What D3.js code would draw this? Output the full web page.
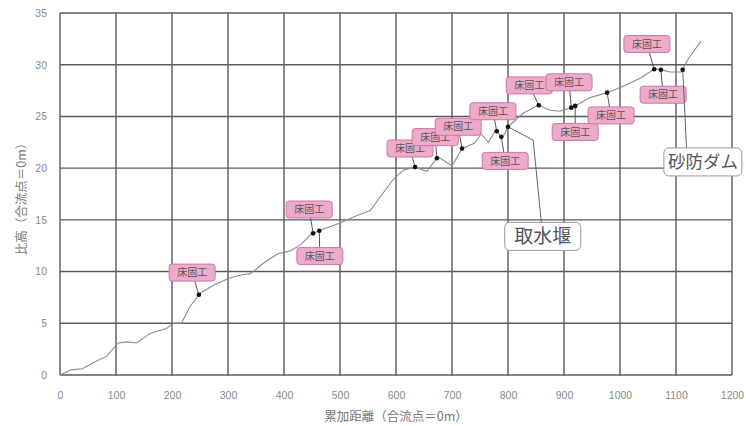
<!DOCTYPE html>
<html>
<head>
<meta charset="utf-8">
<script src="https://cdn.jsdelivr.net/npm/d3@7"></script>
<style>
  html, body { margin: 0; padding: 0; background: #fff; }
  svg { display: block; }
</style>
</head>
<body>
<svg id="chart" width="746" height="426"></svg>
<script>
// 縦断図：累加距離 (m) と 比高 (m)
const distance = [0, 20, 40, 60, 83, 104, 120, 137, 160, 190, 203, 217, 232, 250, 275, 304, 325, 340,
  363, 388, 411, 430, 448, 465, 500, 525, 554, 577, 595, 613, 634, 655, 675, 700, 718, 740, 752, 765,
  778, 790, 800, 827, 854, 875, 893, 916, 946, 977, 1005, 1036, 1062, 1075, 1089, 1110, 1121, 1145];
const elevation = [0, 0.5, 0.6, 1.2, 1.8, 3.1, 3.2, 3.1, 4.0, 4.5, 5.0, 5.0, 6.6, 7.9, 8.7, 9.4, 9.7, 9.8,
  10.8, 11.7, 12.0, 12.6, 13.6, 14.0, 14.7, 15.3, 15.9, 17.6, 18.9, 19.8, 20.1, 19.7, 21.1, 20.2, 21.9, 22.4, 23.3, 22.5,
  23.7, 22.9, 24.0, 25.3, 26.1, 25.6, 25.5, 25.9, 26.8, 27.3, 27.9, 28.7, 29.6, 29.5, 29.3, 29.3, 30.5, 32.3];

const xTicks = [0, 100, 200, 300, 400, 500, 600, 700, 800, 900, 1000, 1100, 1200];
const yTicks = [0, 5, 10, 15, 20, 25, 30, 35];

// 床固工：設置位置 (m) と ラベル位置 (距離, 比高)
const bedSillAt = [248, 452, 463, 634, 673, 718, 780, 788, 855, 913, 920, 977, 1061, 1073];
const bedSillLabelX = [236, 445, 464, 625, 670, 711, 773, 795, 838, 909, 920, 984, 1048, 1077];
const bedSillLabelY = [9.9, 16.0, 11.5, 21.9, 23.0, 24.0, 25.5, 20.7, 28.0, 28.3, 23.5, 25.1, 32.0, 27.1];
const bedSillName = "床固工";

// 主要構造物
const structName = ["取水堰", "砂防ダム"];
const structAt = [800, 1112];
const structLabelX = [862, 1148];
const structLabelY = [13.4, 20.6];

const xTitle = "累加距離（合流点＝0m）";
const yTitle = "比高（合流点＝0m）";

const svg = d3.select("#chart");
const x = d3.scaleLinear().domain([0, 1200]).range([60, 732]);
const y = d3.scaleLinear().domain([0, 35]).range([375, 13]);

const profile = distance.map((d, i) => [d, elevation[i]]);
const elevAt = d => {
  const i = d3.bisector(p => p[0]).right(profile, d);
  if (i <= 0) return profile[0][1];
  if (i >= profile.length) return profile[profile.length - 1][1];
  const a = profile[i - 1], b = profile[i];
  return a[1] + (b[1] - a[1]) * (d - a[0]) / (b[0] - a[0]);
};

// グリッド
const grid = svg.append("g");
grid.selectAll(".vx").data(xTicks).join("line")
  .attr("x1", d => x(d)).attr("x2", d => x(d))
  .attr("y1", y(0)).attr("y2", y(35))
  .attr("stroke", "#5a5a5a").attr("stroke-width", 1.4);
grid.selectAll(".hy").data(yTicks).join("line")
  .attr("x1", x(0)).attr("x2", x(1200))
  .attr("y1", d => y(d)).attr("y2", d => y(d))
  .attr("stroke", "#5a5a5a").attr("stroke-width", 1.4);

// 軸
const xAxis = svg.append("g").attr("transform", `translate(0,${y(0)})`)
  .call(d3.axisBottom(x).tickValues(xTicks).tickFormat(d3.format("d")).tickSize(0).tickPadding(17));
const yAxis = svg.append("g").attr("transform", `translate(${x(0)},0)`)
  .call(d3.axisLeft(y).tickValues(yTicks).tickFormat(d3.format("d")).tickSize(0).tickPadding(13));
[xAxis, yAxis].forEach(g => {
  g.select(".domain").remove();
  g.selectAll("text").attr("fill", "#8a8a8a")
    .style("font-family", "'Liberation Sans', sans-serif").style("font-size", "10.5px");
});

svg.append("text").text(xTitle)
  .attr("x", 396).attr("y", 421).attr("text-anchor", "middle")
  .attr("fill", "#777").style("font-family", "'Noto Sans CJK JP'").style("font-size", "12.5px");
svg.append("text").text(yTitle)
  .attr("transform", "translate(26,196) rotate(-90)").attr("text-anchor", "middle")
  .attr("fill", "#777").style("font-family", "'Noto Sans CJK JP'").style("font-size", "12.5px");

// 縦断線
svg.append("path").datum(profile)
  .attr("d", d3.line().x(d => x(d[0])).y(d => y(d[1])))
  .attr("fill", "none").attr("stroke", "#8c8c8c").attr("stroke-width", 1.1);

// 床固工の引出線・ラベル
const sills = bedSillAt.map((d, i) => ({ d, e: elevAt(d), lx: bedSillLabelX[i], ly: bedSillLabelY[i] }));
const sg = svg.append("g");
sg.selectAll("line").data(sills).join("line")
  .attr("x1", s => x(s.lx)).attr("y1", s => y(s.ly))
  .attr("x2", s => x(s.d)).attr("y2", s => y(s.e))
  .attr("stroke", "#444").attr("stroke-width", 0.9);

// 構造物の引出線（取水堰は折れ線）
const sp = [
  [[structLabelX[0], structLabelY[0]], [845, 22.7], [structAt[0], elevAt(structAt[0])]],
  [[structLabelX[1] - 28, structLabelY[1]], [structAt[1], elevAt(structAt[1])]]
];
svg.append("g").selectAll("path").data(sp).join("path")
  .attr("d", d3.line().x(p => x(p[0])).y(p => y(p[1])))
  .attr("fill", "none").attr("stroke", "#555").attr("stroke-width", 0.9);

const boxes = sg.selectAll("g").data(sills).join("g")
  .attr("transform", s => `translate(${x(s.lx)},${y(s.ly)})`);
boxes.append("rect")
  .attr("x", -23).attr("y", -8.5).attr("width", 46).attr("height", 17).attr("rx", 3)
  .attr("fill", "#eeaacb").attr("stroke", "#c77a9f").attr("stroke-width", 1);
boxes.append("text").text(bedSillName)
  .attr("text-anchor", "middle").attr("dy", "0.36em")
  .attr("fill", "#555").style("font-family", "'Noto Sans CJK JP'").style("font-size", "10px");

// 設置点
svg.append("g").selectAll("circle")
  .data(sills.map(s => [s.d, s.e]).concat(structAt.map(d => [d, elevAt(d)])))
  .join("circle")
  .attr("cx", p => x(p[0])).attr("cy", p => y(p[1])).attr("r", 2.3).attr("fill", "#111");

// 構造物ラベル
const boxW = [76, 78];
const st = svg.append("g").selectAll("g").data(structName).join("g")
  .attr("transform", (n, i) => `translate(${x(structLabelX[i])},${y(structLabelY[i])})`);
st.append("rect")
  .attr("x", (n, i) => -boxW[i] / 2).attr("y", -14)
  .attr("width", (n, i) => boxW[i]).attr("height", 28).attr("rx", 5)
  .attr("fill", "#fff").attr("stroke", "#999").attr("stroke-width", 1);
st.append("text").text(n => n)
  .attr("text-anchor", "middle").attr("dy", "0.36em")
  .attr("fill", "#555").style("font-family", "'Noto Sans CJK JP'")
  .style("font-size", (n, i) => i === 0 ? "19px" : "17.5px");
</script>
</body>
</html>
